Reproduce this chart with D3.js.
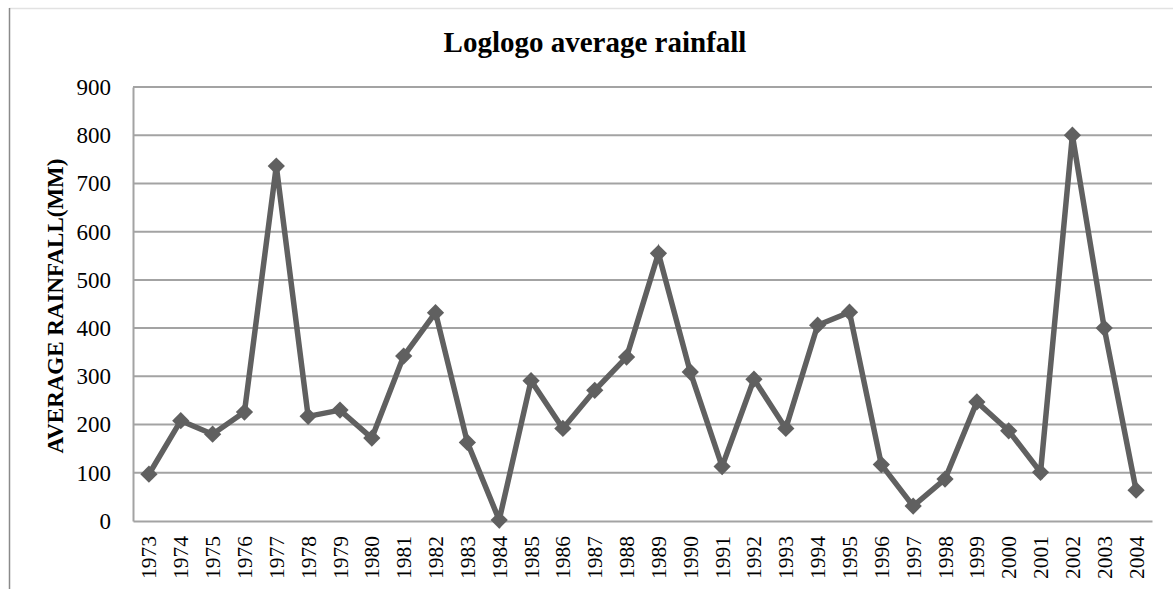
<!DOCTYPE html>
<html>
<head>
<meta charset="utf-8">
<script src="https://cdn.jsdelivr.net/npm/d3@7"></script>
<style>
  body { margin: 0; background: #fff; }
  svg { display: block; }
</style>
</head>
<body>
<script>
// data
const years = ['1973','1974','1975','1976','1977','1978','1979','1980','1981','1982','1983','1984','1985','1986','1987','1988',
               '1989','1990','1991','1992','1993','1994','1995','1996','1997','1998','1999','2000','2001','2002','2003','2004'];
const rainfall = [97, 208, 180, 226, 736, 217, 230, 172, 342, 432, 163, 2, 291, 192, 271, 340,
                  555, 309, 113, 294, 192, 406, 433, 117, 31, 87, 247, 187, 101, 800, 400, 64];
const yTicks = [0, 100, 200, 300, 400, 500, 600, 700, 800, 900];

const title = 'Loglogo average rainfall';
const yLabel = 'AVERAGE RAINFALL(MM)';

// set variables
const w = 1173, h = 589;
const plotL = 133, plotR = 1152, plotT = 87, plotB = 521;
const lineColor = '#606060';
const gridColor = '#a3a3a3';
const font = '"Liberation Serif", "Times New Roman", serif';

const svg = d3.select('body').append('svg')
    .attr('width', w)
    .attr('height', h);

// outer chart border
svg.append('line').attr('x1', 9).attr('x2', w).attr('y1', 8.5).attr('y2', 8.5)
    .attr('stroke', '#e2e2e2').attr('stroke-width', 1.5);
svg.append('line').attr('x1', 9.5).attr('x2', 9.5).attr('y1', 8).attr('y2', h)
    .attr('stroke', '#8a8a8a').attr('stroke-width', 1.5);

// scales
const xScale = d3.scaleBand().domain(years).range([plotL, plotR]);
const yScale = d3.scaleLinear().domain([0, 900]).range([plotB, plotT]);

// gridlines
svg.append('g')
    .selectAll('line')
    .data(yTicks.slice(1))
    .enter()
    .append('line')
    .attr('x1', plotL).attr('x2', plotR)
    .attr('y1', d => yScale(d)).attr('y2', d => yScale(d))
    .attr('stroke', gridColor)
    .attr('stroke-width', 2);

// y axis
const yAxis = d3.axisLeft(yScale).tickValues(yTicks).tickSize(0).tickPadding(22);
const gy = svg.append('g')
    .attr('transform', `translate(${plotL},0)`)
    .call(yAxis);
gy.select('.domain').attr('stroke', gridColor).attr('stroke-width', 2);
gy.selectAll('text')
    .style('font-family', font)
    .style('font-size', '23px')
    .attr('fill', '#000');

// x axis
const xAxis = d3.axisBottom(xScale).tickSize(0).tickSizeOuter(0);
const gx = svg.append('g')
    .attr('transform', `translate(0,${plotB})`)
    .call(xAxis);
gx.select('.domain').attr('stroke', gridColor).attr('stroke-width', 2);
gx.selectAll('text')
    .style('font-family', font)
    .style('font-size', '21.5px')
    .attr('fill', '#000')
    .attr('transform', 'rotate(-90)')
    .attr('text-anchor', 'end')
    .attr('x', -15)
    .attr('y', 0)
    .attr('dy', '0.35em');

// line
const line = d3.line()
    .x((d, i) => xScale(years[i]) + xScale.bandwidth() / 2)
    .y(d => yScale(d));

svg.append('path')
    .datum(rainfall)
    .attr('d', line)
    .attr('fill', 'none')
    .attr('stroke', lineColor)
    .attr('stroke-width', 5.5)
    .attr('stroke-linejoin', 'miter');

// diamond markers
svg.append('g')
    .selectAll('path')
    .data(rainfall)
    .enter()
    .append('path')
    .attr('d', d3.symbol().type(d3.symbolDiamond2).size(190))
    .attr('transform', (d, i) => `translate(${xScale(years[i]) + xScale.bandwidth() / 2},${yScale(d)})`)
    .attr('fill', lineColor);

// title
svg.append('text')
    .attr('x', 595)
    .attr('y', 52)
    .attr('text-anchor', 'middle')
    .style('font-family', font)
    .style('font-weight', 'bold')
    .style('font-size', '29px')
    .text(title);

// y label
svg.append('text')
    .attr('transform', `translate(63,${(plotT + plotB) / 2 + 2}) rotate(-90)`)
    .attr('text-anchor', 'middle')
    .style('font-family', font)
    .style('font-weight', 'bold')
    .style('font-size', '23px')
    .text(yLabel);
</script>
</body>
</html>
